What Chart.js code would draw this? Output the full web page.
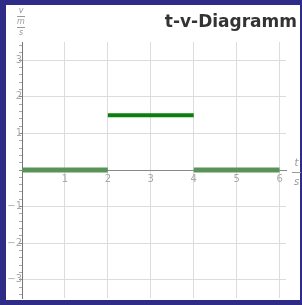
<!DOCTYPE html>
<html>
<head>
<meta charset="utf-8">
<script src="https://cdn.jsdelivr.net/npm/chart.js@4/dist/chart.umd.min.js"></script>
<style>
  body { margin: 0; background: #fff; }
  #wrap { position: relative; width: 302px; height: 305px; overflow: hidden; }
  #frame {
    position: absolute; left: 0; top: 0; width: 302px; height: 305px;
    box-sizing: border-box; pointer-events: none;
    border-style: solid; border-color: #2e2c86;
    border-width: 5px 2px 5px 6px;
  }
  .txt { position: absolute; font-family: "DejaVu Sans", sans-serif; color: #999; }
  #title { right: 5px; top: 11px; font-weight: bold; font-size: 17px; color: #333; white-space: nowrap; }
  .frac { position: absolute; font-family: "DejaVu Sans", sans-serif; font-style: italic; color: #999;
          text-align: center; line-height: 1; }
  .frac span { display: block; }
  .frac hr { border: 0; border-top: 1px solid #999; margin: 1px 0; }
</style>
</head>
<body>
<div id="wrap">
  <canvas id="c" width="302" height="305"></canvas>
  <div id="frame"></div>
  <div id="title" class="txt">t-v-Diagramm</div>
  <div class="frac" style="left:17px; top:7px; width:8px; font-size:8px;">
    <span>v</span><hr><span>m</span><hr><span>s</span>
  </div>
  <div class="frac" style="left:292px; top:158px; width:9px; font-size:10px;">
    <span>t</span><hr style="margin:4px 0"><span>s</span>
  </div>
</div>
<script>
// time segments (s) and velocity (m/s)
const tStart = [0, 2, 4];
const tEnd = [2, 4, 6];
const velocity = [0, 1.5, 0];
const segColors = ['#5a935a', '#0b7f0b', '#5a935a'];
const segWidths = [5, 4, 5];

// axis ticks
const xTicks = [0, 1, 2, 3, 4, 5, 6];
const yTicks = [-3, -2, -1, 0, 1, 2, 3];
const yMinorStep = 0.2;

const isMajorY = v => yTicks.some(t => Math.abs(t - v) < 1e-6);

const yTickList = [];
for (let k = -17; k <= 17; k++) yTickList.push(Math.round(k * yMinorStep * 10) / 10);

const datasets = tStart.map((t, i) => ({
  data: [{ x: t, y: velocity[i] }, { x: tEnd[i], y: velocity[i] }],
  borderColor: segColors[i],
  borderWidth: segWidths[i],
  borderCapStyle: 'butt',
  pointRadius: 0,
  fill: false
}));

new Chart(document.getElementById('c'), {
  type: 'line',
  data: { datasets },
  options: {
    responsive: false,
    animation: false,
    layout: { padding: { left: 22, top: 42, right: 16, bottom: 5 } },
    plugins: { legend: { display: false }, tooltip: { enabled: false } },
    scales: {
      x: {
        type: 'linear',
        position: { y: 0 },
        min: 0,
        max: 6.15,
        afterBuildTicks: scale => { scale.ticks = xTicks.map(v => ({ value: v })); },
        ticks: {
          autoSkip: false,
          padding: 3,
          color: '#aaa',
          font: { size: 10, family: 'DejaVu Sans' },
          maxRotation: 0,
          callback: v => (v === 0 ? '' : String(v))
        },
        grid: {
          drawTicks: false,
          color: c => (c.tick.value === 0 ? 'rgba(0,0,0,0)' : '#dcdcdc')
        },
        border: { display: true, color: '#888', width: 1 }
      },
      y: {
        type: 'linear',
        position: { x: 0 },
        min: -3.5,
        max: 3.5,
        afterBuildTicks: scale => { scale.ticks = yTickList.map(v => ({ value: v })); },
        ticks: {
          autoSkip: false,
          padding: 1,
          color: '#aaa',
          font: { size: 10, family: 'DejaVu Sans' },
          callback: v => {
            if (!isMajorY(v) || Math.abs(v) < 1e-6) return '';
            const r = Math.round(v);
            return r < 0 ? '\u2212' + Math.abs(r) : String(r);
          }
        },
        grid: {
          tickLength: 3,
          color: c => (isMajorY(c.tick.value) && Math.abs(c.tick.value) > 1e-6 ? '#dcdcdc' : 'rgba(0,0,0,0)'),
          tickColor: c => (isMajorY(c.tick.value) ? '#888' : '#aaa')
        },
        border: { display: true, color: '#777', width: 1 }
      }
    }
  }
});
</script>
</body>
</html>
